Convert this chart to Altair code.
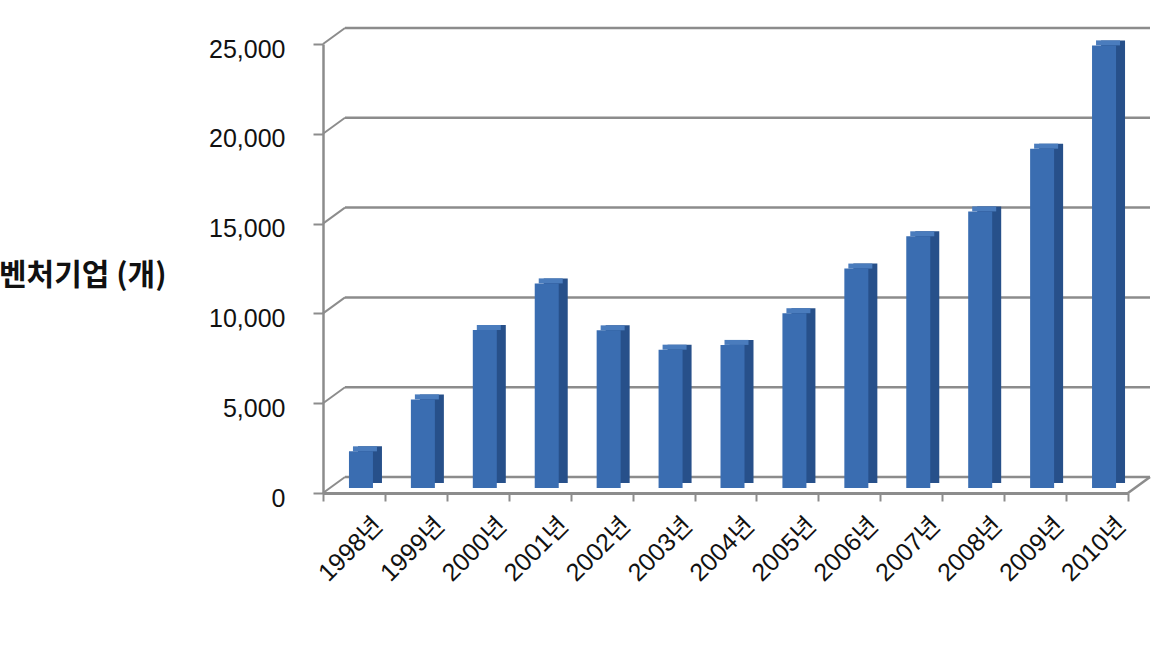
import altair as alt
import pandas as pd

years = ["1998년", "1999년", "2000년", "2001년", "2002년", "2003년", "2004년",
         "2005년", "2006년", "2007년", "2008년", "2009년", "2010년"]
firms = [2042, 4934, 8798, 11392, 8778, 7702, 7967, 9732, 12218, 14015, 15401, 18893, 24645]
grid_values = [0, 5000, 10000, 15000, 20000, 25000]

W, H = 805, 449
DX, DY = 22, -16
GRAY = "#8c8c8c"
FRONT = "#3a6db1"
SIDE = "#27508a"
TOP = "#4a7cbd"
FONT = "Liberation Sans, Noto Sans CJK KR, sans-serif"

bars = pd.DataFrame({"year": years, "firms": firms})
grid = pd.DataFrame({"v": grid_values})
floor = pd.DataFrame({"v": [0]})

yscale = alt.Scale(domain=[0, 25000], nice=False, zero=True)
xscale = alt.Scale(domain=years, paddingInner=0, paddingOuter=0)

xaxis = alt.Axis(
    title=None, labelAngle=-45, labelAlign="right", labelBaseline="middle",
    labelFontSize=25, labelFont=FONT, labelColor="#111111",
    labelOffset=24, labelPadding=20, tickBand="extent", tickSize=8,
    tickColor=GRAY, tickWidth=2, domainColor=GRAY, domainWidth=3, grid=False,
    labelLimit=0,
)
yaxis = alt.Axis(
    values=grid_values, format=",d", labelFontSize=25, labelFont=FONT,
    labelColor="#111111", labelPadding=28, labelOffset=5, tickSize=10,
    tickColor=GRAY, tickWidth=2, domainColor=GRAY, domainWidth=2.5, grid=False,
    title="벤처기업 (개)", titleAngle=0, titleFontSize=30, titleFontWeight="bold",
    titleFont="Noto Sans CJK KR", titleColor="#111111", titleX=-157, titleY=231,
    titleAlign="right", titleBaseline="middle", titleLimit=0,
)

base = alt.Chart(bars)

# back wall gridlines
back = alt.Chart(grid).mark_rule(color=GRAY, strokeWidth=2.5, yOffset=DY).encode(
    x=alt.value(DX), x2=alt.value(W + DX),
    y=alt.Y("v:Q", scale=yscale, axis=yaxis),
)
# diagonal connectors on left wall
diag = alt.Chart(grid).mark_rule(color=GRAY, strokeWidth=2, y2Offset=DY).encode(
    x=alt.value(0), x2=alt.value(DX),
    y=alt.Y("v:Q", scale=yscale), y2="v:Q",
)
# floor right edge
floor_right = alt.Chart(floor).mark_rule(color=GRAY, strokeWidth=2.5, y2Offset=DY).encode(
    x=alt.value(W), x2=alt.value(W + DX),
    y=alt.Y("v:Q", scale=yscale), y2="v:Q",
)

side = base.mark_bar(color=SIDE, width=24, xOffset=16, yOffset=-10, y2Offset=-10).encode(
    x=alt.X("year:N", scale=xscale, sort=years, axis=xaxis),
    y=alt.Y("firms:Q", scale=yscale), y2=alt.datum(0),
)
top = base.mark_bar(color=TOP, width=24, xOffset=11, yOffset=-10, y2Offset=-5).encode(
    x=alt.X("year:N", scale=xscale, sort=years),
    y=alt.Y("firms:Q", scale=yscale), y2="firms:Q",
)
front = base.mark_bar(color=FRONT, width=24, xOffset=7, yOffset=-5, y2Offset=-5).encode(
    x=alt.X("year:N", scale=xscale, sort=years),
    y=alt.Y("firms:Q", scale=yscale), y2=alt.datum(0),
)

chart = alt.layer(back, diag, floor_right, side, top, front).properties(
    width=W, height=H,
    autosize=alt.AutoSizeParams(type="none"),
    padding={"left": 323, "top": 44, "right": 39, "bottom": 153},
    background="white",
).configure_view(stroke=None)

chart.save("out.html", embed_options={"renderer": "svg", "actions": False})
